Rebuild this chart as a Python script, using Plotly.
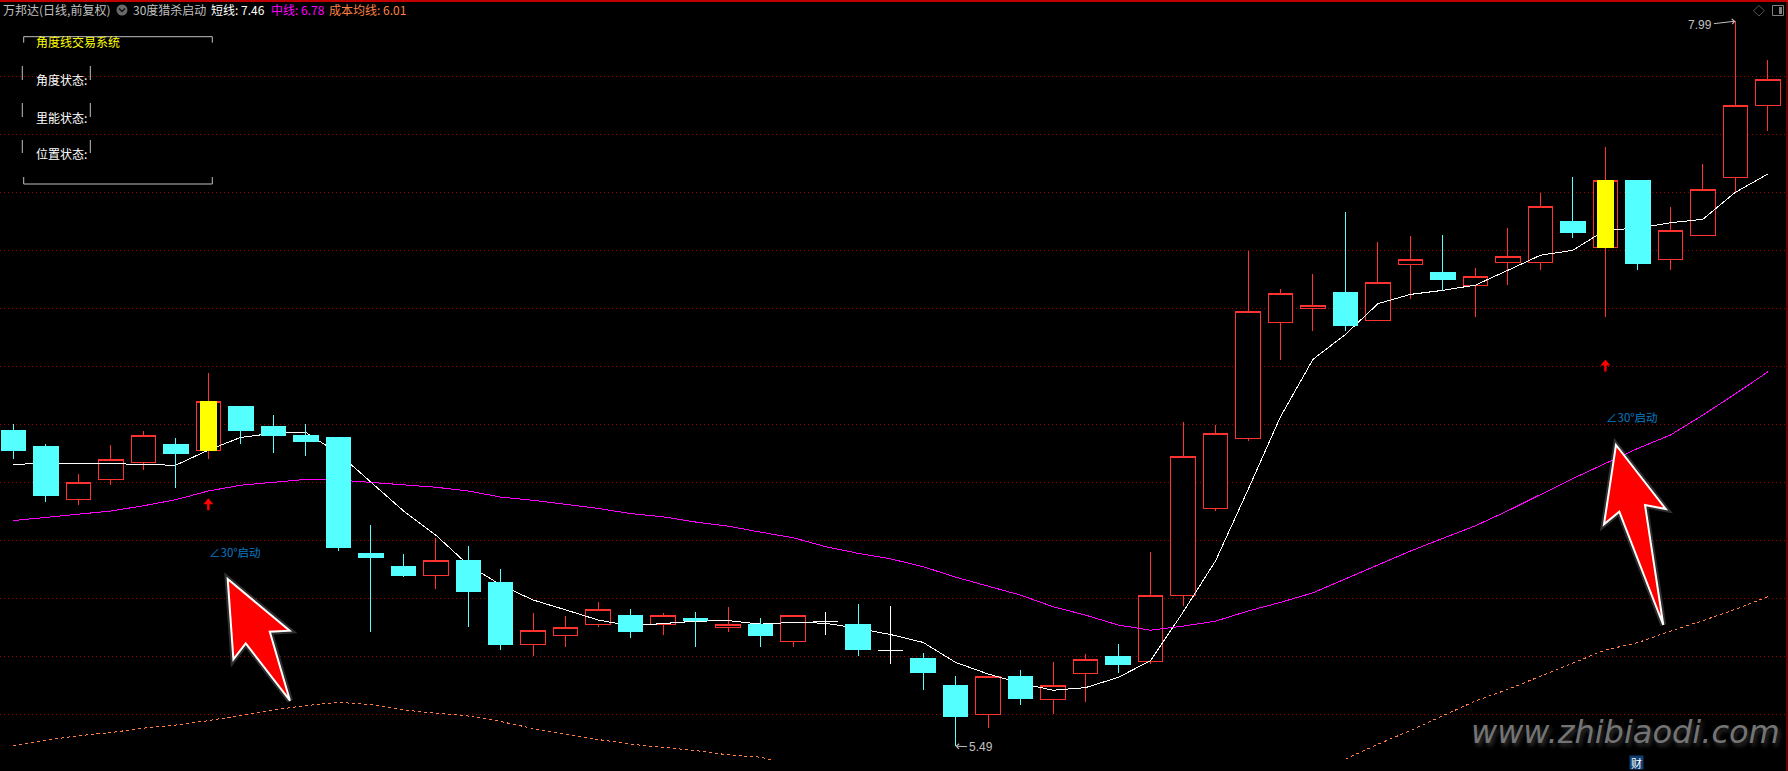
import plotly.graph_objects as go

W = 1788
H = 771

# one entry per trading day
HIGH = [6.601, 6.532, 6.429, 6.529, 6.577, 6.553, 6.777, 6.663, 6.632, 6.601, 6.553, 6.253, 6.153, 6.208,
        6.180, 6.101, 5.949, 5.939, 5.987, 5.963, 5.949, 5.953, 5.970, 5.932, 5.941, 5.953, 5.980, 5.973,
        5.811, 5.732, 5.731, 5.753, 5.780, 5.808, 5.842, 6.160, 6.608, 6.598, 7.198, 7.066, 7.118, 7.332,
        7.229, 7.249, 7.253, 7.139, 7.277, 7.398, 7.453, 7.556, 7.442, 7.349, 7.498, 7.990, 7.856]
LOW = [6.480, 6.332, 6.322, 6.391, 6.442, 6.380, 6.480, 6.532, 6.501, 6.491, 6.163, 5.884, 6.073, 6.032,
       5.901, 5.821, 5.801, 5.832, 5.901, 5.863, 5.873, 5.832, 5.884, 5.832, 5.832, 5.875, 5.801, 5.775,
       5.684, 5.490, 5.553, 5.632, 5.601, 5.643, 5.743, 5.775, 5.974, 6.302, 6.543, 6.822, 6.922, 6.922,
       6.959, 7.032, 7.061, 6.970, 7.080, 7.132, 7.242, 6.970, 7.132, 7.132, 7.250, 7.400, 7.611]
OPEN = [6.580, 6.522, 6.340, 6.409, 6.468, 6.532, 6.509, 6.663, 6.591, 6.563, 6.553, 6.153, 6.111, 6.078,
        6.132, 6.053, 5.840, 5.871, 5.909, 5.942, 5.909, 5.932, 5.899, 5.911, 5.850, 5.921, 5.911, 5.821,
        5.791, 5.701, 5.599, 5.732, 5.650, 5.740, 5.801, 5.783, 6.010, 6.310, 6.550, 6.952, 6.999, 7.053,
        6.959, 7.152, 7.122, 7.078, 7.157, 7.157, 7.301, 7.209, 7.442, 7.168, 7.250, 7.450, 7.699]
CLOSE = [6.511, 6.353, 6.400, 6.479, 6.562, 6.501, 6.679, 6.580, 6.563, 6.542, 6.174, 6.142, 6.080, 6.131,
         6.022, 5.842, 5.890, 5.900, 5.962, 5.884, 5.941, 5.922, 5.910, 5.873, 5.941, 5.921, 5.822, 5.821,
         5.743, 5.591, 5.731, 5.653, 5.700, 5.790, 5.773, 6.010, 6.490, 6.569, 6.990, 7.052, 7.010, 6.942,
         7.090, 7.169, 7.101, 7.110, 7.179, 7.352, 7.260, 7.441, 7.153, 7.269, 7.410, 7.700, 7.790]

SHORT_MA = [6.462, 6.465, 6.465, 6.465, 6.461, 6.459, 6.511, 6.555, 6.569, 6.572, 6.500, 6.400, 6.302, 6.218,
            6.115, 6.046, 5.994, 5.960, 5.925, 5.905, 5.914, 5.921, 5.923, 5.911, 5.917, 5.914, 5.896, 5.875,
            5.848, 5.779, 5.739, 5.707, 5.683, 5.692, 5.727, 5.785, 5.952, 6.129, 6.374, 6.626, 6.824, 6.910,
            7.016, 7.048, 7.062, 7.080, 7.131, 7.183, 7.200, 7.270, 7.276, 7.295, 7.307, 7.400, 7.463]
MID_MA = [6.268, 6.278, 6.290, 6.301, 6.319, 6.340, 6.370, 6.390, 6.399, 6.410, 6.408, 6.400, 6.390, 6.383,
          6.370, 6.349, 6.338, 6.323, 6.310, 6.292, 6.281, 6.263, 6.249, 6.228, 6.209, 6.178, 6.155, 6.136,
          6.109, 6.073, 6.042, 6.011, 5.971, 5.942, 5.908, 5.890, 5.904, 5.921, 5.956, 5.986, 6.019, 6.067,
          6.117, 6.163, 6.207, 6.250, 6.302, 6.357, 6.413, 6.465, 6.517, 6.563, 6.632, 6.705, 6.781]
COST_MA = [5.492, 5.511, 5.526, 5.537, 5.552, 5.563, 5.578, 5.597, 5.615, 5.630, 5.641, 5.634, 5.615, 5.604,
           5.594, 5.575, 5.551, 5.532, 5.513, 5.497, 5.485, 5.475, 5.460, 5.452, 5.425, None, None, None,
           None, None, None, None, None, None, None, None, None, None, None, None, 5.394, 5.445,
           5.497, 5.544, 5.594, 5.646, 5.686, 5.732, 5.776, 5.822, 5.847, 5.887, 5.923, 5.962, 6.006]

DOJI_DAYS = [25, 27]
YELLOW_DAYS = [6, 49]
GRID_PRICES = [5.6, 5.8, 6.0, 6.2, 6.4, 6.6, 6.8, 7.0, 7.2, 7.4, 7.6, 7.8]

RED = "#ff3232"
CYAN = "#54ffff"
GRID = "#a00000"
LIGHT = "#c0c0c0"
ORANGE = "#ff8040"
BLUE = "#0a7cc4"

days = list(range(len(CLOSE)))
doji = [d for d in days if d in DOJI_DAYS]
up = [d for d in days if d not in doji and CLOSE[d] > OPEN[d]]
down = [d for d in days if d not in doji and CLOSE[d] <= OPEN[d]]


def candles(idx, color, fill, z):
    return go.Candlestick(
        x=idx,
        open=[OPEN[d] for d in idx],
        high=[HIGH[d] for d in idx],
        low=[LOW[d] for d in idx],
        close=[CLOSE[d] for d in idx],
        increasing=dict(line=dict(color=color, width=1), fillcolor=fill),
        decreasing=dict(line=dict(color=color, width=1), fillcolor=fill),
        whiskerwidth=0,
        hoverinfo="skip",
        zorder=z,
    )


def px(x):
    return x / W


def py(y):
    return 1 - y / H


def label(x, y, text, color, size=12, anchor="left", family="Noto Sans CJK SC", **kw):
    # annotations pad their box, so left aligned text goes a bit to the left
    if anchor == "left":
        x = x - 2.5
    return dict(xref="paper", yref="paper", x=px(x), y=py(y), text=text, showarrow=False, xanchor=anchor,
                yanchor="middle", font=dict(family=family, size=size, color=color, **kw.pop("font", {})), **kw)


def seg(x0, y0, x1, y1, color=LIGHT, width=1):
    return dict(type="line", xref="paper", yref="paper", x0=px(x0), y0=py(y0), x1=px(x1), y1=py(y1),
                line=dict(color=color, width=width))


def poly(points, fill, color, width, closed=True):
    path = "M" + " L".join(f"{px(x):.5f},{py(y):.5f}" for x, y in points) + (" Z" if closed else "")
    return dict(type="path", xref="paper", yref="paper", path=path, fillcolor=fill,
                line=dict(color=color, width=width))


fig = go.Figure()
fig.add_trace(candles(up, RED, "#000000", 0))
fig.add_trace(go.Scatter(x=days, y=COST_MA, mode="lines", line=dict(color=ORANGE, width=1, dash="3px,3px"),
                         connectgaps=False, hoverinfo="skip", zorder=1))
fig.add_trace(go.Scatter(x=days, y=MID_MA, mode="lines", line=dict(color="#ff00ff", width=1),
                         hoverinfo="skip", zorder=1))
fig.add_trace(go.Scatter(x=days, y=SHORT_MA, mode="lines", line=dict(color="#ffffff", width=1),
                         hoverinfo="skip", zorder=1))
fig.add_trace(candles(down, CYAN, CYAN, 2))
fig.add_trace(candles(doji, "#ffffff", "#ffffff", 2))
fig.add_trace(go.Bar(x=YELLOW_DAYS, y=[CLOSE[d] - OPEN[d] for d in YELLOW_DAYS], base=[OPEN[d] for d in YELLOW_DAYS],
                     width=0.52, marker=dict(color="#ffff00", line=dict(width=0)), hoverinfo="skip", zorder=3))

left_arrow = [(227.7, 579), (289.7, 630.7), (269.8, 631.7), (290, 700.7), (245.7, 643.3), (233.4, 659.3)]
right_arrow = [(1616, 445), (1665.7, 509), (1645, 505), (1663.3, 625), (1619.3, 511.7), (1604, 524.3)]
shapes = [
    # frame of the picture
    seg(0, 1, W, 1, "#c00000", 2),
    seg(W - 1, 0, W - 1, H, "#c00000", 1),
    # panel brackets
    seg(23.7, 36.7, 212.3, 36.7), seg(23.7, 36.7, 23.7, 42.7), seg(212.3, 36.7, 212.3, 42.7),
    seg(23.7, 184, 212.3, 184), seg(23.7, 184, 23.7, 177), seg(212.3, 184, 212.3, 177),
    seg(22.3, 66, 22.3, 80), seg(90.3, 66, 90.3, 80),
    seg(22.3, 103, 22.3, 117), seg(90.3, 103, 90.3, 117),
    seg(22.3, 140, 22.3, 153), seg(90.3, 140, 90.3, 153),
    # big pointers pasted on the screenshot
    poly(left_arrow, "rgba(0,0,0,0)", "rgba(255,255,255,0.18)", 6),
    poly(left_arrow, "#ff0000", "#ffffff", 2),
    poly(right_arrow, "rgba(0,0,0,0)", "rgba(255,255,255,0.18)", 6),
    poly(right_arrow, "#ff0000", "#ffffff", 2),
    # header button and top right icons
    dict(type="circle", xref="paper", yref="paper", x0=px(116.5), x1=px(127.5), y0=py(15.5), y1=py(4.5),
         fillcolor="#6a6a6a", line=dict(width=0)),
    poly([(119, 8.5), (122, 11.5), (125, 8.5)], "rgba(0,0,0,0)", "#111111", 1.5, closed=False),
    poly([(1759, 5.5), (1764.5, 10.7), (1759, 16), (1753.5, 10.7)], "rgba(0,0,0,0)", "#555555", 1),
    dict(type="rect", xref="paper", yref="paper", x0=px(1772.5), x1=px(1783.5), y0=py(15.5), y1=py(5.5),
         fillcolor="rgba(0,0,0,0)", line=dict(color="#808080", width=1)),
    dict(type="rect", xref="paper", yref="paper", x0=px(1779), x1=px(1782), y0=py(14), y1=py(7),
         fillcolor="#808080", line=dict(width=0)),
]
for d in YELLOW_DAYS:
    # small buy arrows under the yellow candles
    cx = 13.4 + 32.49 * d
    top = 498.3 if d == 6 else 359.5
    shapes.append(poly([(cx, top), (cx + 5, top + 6), (cx + 1.2, top + 6), (cx + 1.2, top + 12),
                        (cx - 1.2, top + 12), (cx - 1.2, top + 6), (cx - 5, top + 6)], "#ff0000", "#ff0000", 0))

annotations = [
    label(3, 10, "万邦达(日线,前复权)", LIGHT),
    label(133, 10, "30度猎杀启动", LIGHT),
    label(211, 10, "短线: 7.46", "#ffffff"),
    label(271, 10, "中线: 6.78", "#ff00ff"),
    label(329, 10, "成本均线: 6.01", ORANGE),
    label(36.7, 41.5, "角度线交易系统", "#ffff00"),
    label(36.7, 80, "角度状态:", "#ffffff"),
    label(36.7, 117, "里能状态:", "#ffffff"),
    label(36.7, 154, "位置状态:", "#ffffff"),
    label(209, 552, "∠30°启动", BLUE, size=11.5),
    label(1606, 417, "∠30°启动", BLUE, size=11.5),
    label(1625, 732, "www.zhibiaodi.com", "#747474", size=32, anchor="center", family="DejaVu Sans",
          font=dict(style="italic", shadow="2px 3px 4px #333333")),
    label(1636.7, 762, "财", "#ffffff", size=11, anchor="center", bgcolor="#123f73", borderpad=0, width=13, height=13),
    dict(x=53, y=7.99, xref="x", yref="y", text="7.99", ax=-35, ay=4, showarrow=True, arrowhead=4,
         arrowsize=1, arrowwidth=1, arrowcolor=LIGHT, font=dict(family="Liberation Sans", size=12, color=LIGHT)),
    dict(x=29, y=5.49, xref="x", yref="y", text="5.49", ax=25, ay=1, showarrow=True, arrowhead=4,
         arrowsize=1, arrowwidth=1, arrowcolor=LIGHT, font=dict(family="Liberation Sans", size=12, color=LIGHT)),
]

fig.update_layout(
    width=W,
    height=H,
    margin=dict(l=0, r=0, t=0, b=0),
    paper_bgcolor="#000000",
    plot_bgcolor="#000000",
    showlegend=False,
    boxgap=0.246,
    boxgroupgap=0,
    barmode="overlay",
    shapes=shapes,
    annotations=annotations,
    xaxis=dict(range=[-0.412, 54.62], visible=False, rangeslider=dict(visible=False), fixedrange=True),
    yaxis=dict(domain=[11 / H, 1], range=[5.4424, 8.0631], tickvals=GRID_PRICES, showticklabels=False, ticks="",
               showgrid=True, gridcolor=GRID, gridwidth=1, griddash="1px,3px", zeroline=False, fixedrange=True),
)

# the terminal draws without anti-aliasing
css = ".boxes path, .bars path, .js-line, .gridlayer path {shape-rendering: crispEdges !important;}"
fig.write_html("out.html", config=dict(displayModeBar=False),
               post_script="document.body.style.margin='0';document.body.style.background='#000';"
                           "var s=document.createElement('style');s.textContent='" + css + "';"
                           "document.head.appendChild(s);")
